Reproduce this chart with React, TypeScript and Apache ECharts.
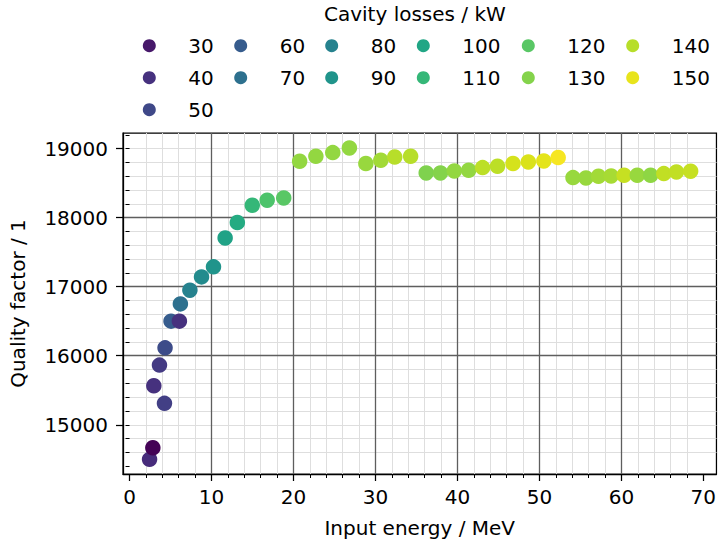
import React, { useEffect, useRef } from "react";
import * as echarts from "echarts";

// ---- data ----
const inputEnergy = [
  2.44, 2.84, 2.96, 4.26, 3.65, 4.33, 5.06, 6.08, 6.2, 7.36,
  8.78, 10.24, 11.66, 13.15, 14.97, 16.79, 18.81, 20.75, 22.73, 24.79,
  26.82, 28.83, 30.65, 32.35, 34.29,
  36.19, 37.93, 39.62, 41.37, 43.07, 44.89, 46.78, 48.65, 50.54, 52.29,
  54.1, 55.68, 57.21, 58.75, 60.33, 61.94, 63.57, 65.18, 66.72, 68.45,
];
const qualityFactor = [
  14499, 14667, 15564, 15310, 15864, 16114, 16501, 16501, 16751, 16949,
  17142, 17287, 17706, 17929, 18179, 18252, 18285, 18816, 18889, 18942,
  19009, 18783, 18831, 18878, 18888,
  18647, 18647, 18676, 18686, 18725, 18744, 18783, 18806, 18821, 18870,
  18580, 18575, 18599, 18604, 18614, 18614, 18614, 18638, 18662, 18672,
];
const cavityLosses = [
  38, 22, 40, 46, 44, 52, 60, 40, 70, 80,
  85, 90, 98, 103, 110, 117, 120, 133, 133, 133,
  133, 134, 136, 140, 140,
  129, 130, 133, 133, 141, 141, 146, 147, 149, 153,
  134, 134, 136, 137, 143, 134, 132, 142, 142, 143,
];
const legendLevels = [30, 40, 50, 60, 70, 80, 90, 100, 110, 120, 130, 140, 150];
const legendColumnSizes = [3, 2, 2, 2, 2, 2];
const xTicks = [0, 10, 20, 30, 40, 50, 60, 70];
const yTicks = [15000, 16000, 17000, 18000, 19000];

// ---- styling ----
const FONT = "DejaVu Sans";
const COLOR_MIN = 21.3;
const COLOR_MAX = 154.6;
const VIRIDIS = [
  "#440154", "#471365", "#482475", "#463480", "#414487", "#3b528b", "#355f8d",
  "#2f6c8e", "#2a788e", "#25848e", "#21918c", "#1e9c89", "#22a884", "#2fb47c",
  "#44bf70", "#5ec962", "#7ad151", "#9bd93c", "#bddf26", "#dfe318", "#fde725",
];
const legendLeft = [142.8, 234.2, 325.2, 416.8, 521.8, 626.2];

function hexToRgb(h: string) {
  return [1, 3, 5].map((i) => parseInt(h.slice(i, i + 2), 16));
}
function viridis(v: number) {
  let t = (v - COLOR_MIN) / (COLOR_MAX - COLOR_MIN);
  t = Math.max(0, Math.min(1, t));
  const p = t * (VIRIDIS.length - 1);
  const i = Math.min(VIRIDIS.length - 2, Math.floor(p));
  const f = p - i;
  const a = hexToRgb(VIRIDIS[i]);
  const b = hexToRgb(VIRIDIS[i + 1]);
  const c = a.map((x, k) => Math.round(x + (b[k] - x) * f));
  return `rgb(${c[0]},${c[1]},${c[2]})`;
}

const X_MIN = -0.8, X_MAX = 71.6;
const Y_MIN = 14287, Y_MAX = 19226;

function range(from: number, to: number, step: number) {
  const out: number[] = [];
  for (let v = from; v <= to + 1e-9; v += step) out.push(Math.round(v * 1000) / 1000);
  return out;
}

export default function App() {
  const ref = useRef<HTMLDivElement>(null);
  useEffect(() => {
    if (!ref.current) return;
    const chart = echarts.init(ref.current, null, { renderer: "svg" });

    const points = inputEnergy.map((x, i) => [x, qualityFactor[i], cavityLosses[i]]);

    const columns: string[][] = [];
    let idx = 0;
    legendColumnSizes.forEach((n) => {
      columns.push(legendLevels.slice(idx, idx + n).map(String));
      idx += n;
    });

    const axisText = { fontSize: 20, color: "#000", fontFamily: FONT };

    chart.setOption({
      animation: false,
      backgroundColor: "#fff",
      textStyle: { fontFamily: FONT },
      title: {
        text: "Cavity losses / kW",
        left: 324,
        top: 4,
        padding: 0,
        textStyle: { fontSize: 20, fontWeight: "normal", color: "#000", fontFamily: FONT },
      },
      legend: columns.map((col, i) => ({
        data: col,
        orient: "vertical",
        left: legendLeft[i],
        top: 35.7,
        padding: 0,
        itemGap: 12,
        itemWidth: 13,
        itemHeight: 13,
        icon: "circle",
        selectedMode: false,
        itemStyle: { opacity: 1 },
        textStyle: { fontSize: 20, color: "#000", fontFamily: FONT, lineHeight: 20, padding: [0, 0, 0, 27.5] },
      })),
      grid: {
        left: 120,
        top: 133,
        right: 2,
        bottom: 73,
        show: true,
        borderColor: "#000",
        borderWidth: 1.25,
        backgroundColor: "#fff",
      },
      visualMap: {
        type: "continuous",
        show: false,
        seriesIndex: 0,
        dimension: 2,
        min: COLOR_MIN,
        max: COLOR_MAX,
        inRange: { color: VIRIDIS },
      },
      xAxis: [
        {
          type: "value",
          min: X_MIN,
          max: X_MAX,
          minInterval: 10,
          maxInterval: 10,
          position: "bottom",
          z: 3,
          axisLine: { show: true, onZero: false, lineStyle: { color: "#000", width: 1.25 } },
          axisTick: { show: true, inside: false, length: 7, customValues: xTicks, lineStyle: { color: "#000", width: 1.25 } },
          axisLabel: { ...axisText, margin: 13, customValues: xTicks, formatter: (v: number) => String(v) },
          splitLine: { show: true, showMinLine: false, showMaxLine: false, lineStyle: { color: "#5e5e5e", width: 1.3 } },
          name: "Input energy / MeV",
          nameLocation: "middle",
          nameGap: 44,
          nameTextStyle: axisText,
        },
        {
          type: "value",
          min: X_MIN,
          max: X_MAX,
          minInterval: 2,
          maxInterval: 2,
          position: "bottom",
          z: 2,
          axisLine: { show: false },
          axisTick: { show: true, inside: false, length: 4, customValues: range(0, 70, 2), lineStyle: { color: "#000", width: 1 } },
          axisLabel: { show: false },
          splitLine: { show: true, showMinLine: false, showMaxLine: false, lineStyle: { color: "#dedede", width: 1 } },
        },
      ],
      yAxis: [
        {
          type: "value",
          min: Y_MIN,
          max: Y_MAX,
          minInterval: 1000,
          maxInterval: 1000,
          position: "left",
          z: 3,
          axisLine: { show: true, onZero: false, lineStyle: { color: "#000", width: 1.25 } },
          axisTick: { show: true, inside: false, length: 7, customValues: yTicks, lineStyle: { color: "#000", width: 1.25 } },
          axisLabel: { ...axisText, margin: 15, customValues: yTicks, formatter: (v: number) => String(v) },
          splitLine: { show: true, showMinLine: false, showMaxLine: false, lineStyle: { color: "#5e5e5e", width: 1.3 } },
          name: "Quality factor / 1",
          nameLocation: "middle",
          nameRotate: 90,
          nameGap: 95,
          nameTextStyle: axisText,
        },
        {
          type: "value",
          min: Y_MIN,
          max: Y_MAX,
          minInterval: 200,
          maxInterval: 200,
          position: "left",
          z: 2,
          axisLine: { show: false },
          axisTick: { show: true, inside: false, length: 4, customValues: range(14400, 19200, 200), lineStyle: { color: "#000", width: 1 } },
          axisLabel: { show: false },
          splitLine: { show: true, showMinLine: false, showMaxLine: false, lineStyle: { color: "#dedede", width: 1 } },
        },
      ],
      series: [
        {
          type: "scatter",
          name: "data",
          xAxisIndex: 0,
          yAxisIndex: 0,
          z: 5,
          symbol: "circle",
          symbolSize: 15.5,
          itemStyle: { opacity: 1 },
          data: points,
        },
        ...legendLevels.map((v) => ({
          type: "scatter",
          name: String(v),
          xAxisIndex: 0,
          yAxisIndex: 0,
          data: [],
          itemStyle: { color: viridis(v), opacity: 1 },
        })),
      ],
    });
    return () => chart.dispose();
  }, []);
  return (
    <div
      ref={ref}
      style={{ position: "absolute", left: 0, top: 0, width: 719, height: 547 }}
    />
  );
}
